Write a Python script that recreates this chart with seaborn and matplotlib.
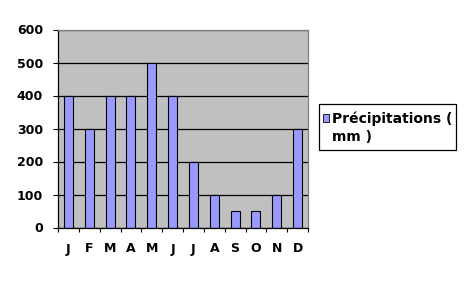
import matplotlib
matplotlib.use("Agg")
import matplotlib.pyplot as plt
import seaborn as sns
import pandas as pd
from matplotlib.ticker import FixedLocator
from matplotlib.patches import Rectangle

months = ["J", "F", "M", "A", "M", "J", "J", "A", "S", "O", "N", "D"]
precip = [400, 300, 400, 400, 500, 400, 200, 100, 50, 50, 100, 300]
series_label = ["Précipitations (", "mm )"]
yticks = [0, 100, 200, 300, 400, 500, 600]

sns.set_style("white")
plt.rcParams["font.family"] = ["DejaVu Sans"]
plt.rcParams["font.weight"] = "bold"
plt.rcParams["text.color"] = "black"
plt.rcParams["xtick.color"] = "black"
plt.rcParams["ytick.color"] = "black"
plt.rcParams["axes.labelcolor"] = "black"
FS = 9.0
LFS = 10.0

df = pd.DataFrame({"pos": range(len(months)), "val": precip})

fig = plt.figure(figsize=(4.68, 2.81), dpi=100)
ax = fig.add_axes([58/468, 1 - 227.5/281, 250/468, (227.5 - 29.5)/281])
ax.set_facecolor("#C0C0C0")
ax.set_axisbelow(True)

sns.barplot(data=df, x="pos", y="val", ax=ax, color="#9999FF", saturation=1,
            width=0.43, edgecolor="black", linewidth=0.8)

ax.set_xlim(-0.5, len(months) - 0.5)
ax.set_ylim(0, 600)
ax.set_yticks(yticks)
ax.set_yticklabels([str(v) for v in yticks], fontsize=FS, fontweight="bold", color="black")
ax.yaxis.grid(True, color="black", linewidth=0.9)
ax.xaxis.grid(False)

ax.set_xticks(range(len(months)))
ax.set_xticklabels(months, fontsize=FS, fontweight="bold", color="black")
ax.tick_params(axis="x", which="major", length=0, pad=10.8)
ax.xaxis.set_minor_locator(FixedLocator([i - 0.5 for i in range(len(months) + 1)]))
ax.tick_params(axis="x", which="minor", length=3, width=0.8, color="black", direction="out", bottom=True)
ax.tick_params(axis="y", which="major", length=3.5, width=0.8, color="black", direction="out", left=True, pad=7.3)
ax.set_xlabel("")
ax.set_ylabel("")

for s in ["left", "bottom"]:
    ax.spines[s].set_color("black")
    ax.spines[s].set_linewidth(0.9)
for s in ["top", "right"]:
    ax.spines[s].set_color("#808080")
    ax.spines[s].set_linewidth(0.9)
    ax.spines[s].set_visible(True)

# legend frame
fig.add_artist(Rectangle((319/468, 1 - 150/281), (456 - 319)/468, (150 - 104)/281,
                         transform=fig.transFigure, facecolor="white",
                         edgecolor="black", linewidth=0.9, zorder=-1))

bar_handle = Rectangle((0, 0), 1, 1, facecolor="#9999FF", edgecolor="black", linewidth=0.6)
blank_handle = Rectangle((0, 0), 1, 1, facecolor="none", edgecolor="none")
leg = ax.legend([bar_handle, blank_handle], series_label,
                loc="upper left", bbox_to_anchor=(322.5/468, 1 - 111.5/281),
                bbox_transform=fig.transFigure, frameon=False,
                prop={"size": LFS, "weight": "bold"}, handlelength=0.48,
                handleheight=0.48, handletextpad=0.2, borderpad=0,
                labelspacing=0.3, borderaxespad=0, labelcolor="black")
leg.set_zorder(5)

fig.savefig("out.png", dpi=100, facecolor="white")
